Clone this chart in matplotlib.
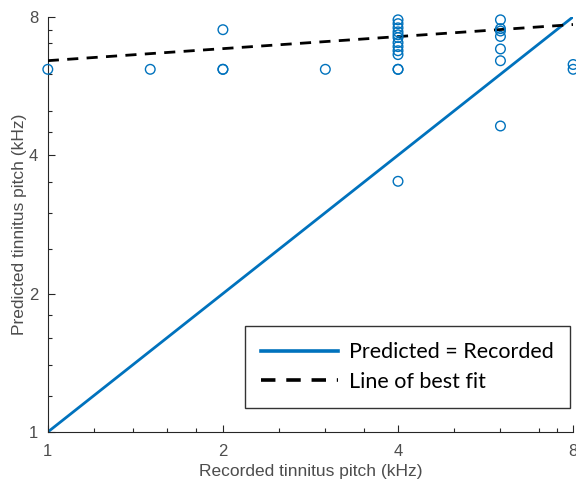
"""Predicted vs recorded tinnitus pitch, log2 axes, with identity and best-fit lines."""
import matplotlib
matplotlib.use("Agg")
import matplotlib.pyplot as plt
import numpy as np

# data (kHz)
recorded = [1, 1.5, 2, 2, 2, 3,
            4, 4, 4, 4, 4, 4, 4, 4, 4, 4, 4, 4, 4,
            6, 6, 6, 6, 6, 6, 6,
            8, 8]
predicted = [6.15, 6.15, 7.5, 6.15, 6.15, 6.15,
             7.88, 7.73, 7.57, 7.42, 7.31, 7.21, 7.03, 6.89, 6.75, 6.62, 6.15, 6.15, 3.51,
             7.88, 7.54, 7.45, 7.25, 6.81, 6.42, 4.63,
             6.3, 6.15]

# best fit in log2 space: log2(pred) = fit_intercept + fit_slope * log2(rec)
fit_intercept = 2.683
fit_slope = 0.087

major_ticks = [1, 2, 4, 8]
x_minor = [1.2, 1.4, 1.6, 1.8, 2.5, 3, 3.5, 5, 6, 7, 7.5]
y_minor = [1.2, 1.4, 1.6, 1.8, 2.5, 3, 3.5, 4.5, 5, 6, 7, 7.5]

BLUE = "#0072BD"
GREY = "#4d4d4d"

fig = plt.figure(figsize=(5.76, 4.8), dpi=100)
ax = fig.add_axes([0.083, 0.1, 0.912, 0.865])

xs = np.array([1.0, 8.0])
ax.plot(xs, xs, color=BLUE, lw=2.0, label="Predicted = Recorded", zorder=2)
fit_y = 2 ** (fit_intercept + fit_slope * np.log2(xs))
ax.plot(xs, fit_y, color="black", lw=2.0, ls=(0, (4, 3)), label="Line of best fit", zorder=3)
ax.scatter(recorded, predicted, s=48, facecolors="none", edgecolors=BLUE,
           linewidths=1.0, zorder=4, clip_on=False)

ax.set_xscale("log", base=2)
ax.set_yscale("log", base=2)
ax.set_xlim(1, 8)
ax.set_ylim(1, 8)
for axis, minor in ((ax.xaxis, x_minor), (ax.yaxis, y_minor)):
    axis.set_major_locator(matplotlib.ticker.FixedLocator(major_ticks))
    axis.set_major_formatter(matplotlib.ticker.FixedFormatter([str(t) for t in major_ticks]))
    axis.set_minor_locator(matplotlib.ticker.FixedLocator(minor))
    axis.set_minor_formatter(matplotlib.ticker.NullFormatter())

ax.spines["top"].set_visible(False)
ax.spines["right"].set_visible(False)
for side in ("left", "bottom"):
    ax.spines[side].set_color("#262626")
    ax.spines[side].set_linewidth(0.8)
ax.tick_params(which="both", direction="in", colors="#262626", labelcolor=GREY,
               labelsize=12, width=0.8)
ax.tick_params(which="major", length=5)
ax.tick_params(which="minor", length=3)
ax.tick_params(axis="x", pad=9)
ax.tick_params(axis="y", pad=7)
for lab in ax.get_xticklabels() + ax.get_yticklabels():
    lab.set_family("Liberation Sans")

ax.set_xlabel("Recorded tinnitus pitch (kHz)", family="Liberation Sans",
              fontsize=12.5, color=GREY, labelpad=3)
ax.set_ylabel("Predicted tinnitus pitch (kHz)", family="Liberation Sans",
              fontsize=12.5, color=GREY, labelpad=1)

leg = ax.legend(loc="lower right", bbox_to_anchor=(0.994, 0.058),
                prop={"family": "Lato", "size": 15.5}, frameon=True, fancybox=False,
                handlelength=3.6, borderpad=0.75, labelspacing=0.45, handletextpad=0.5,
                borderaxespad=0.0)
leg.get_frame().set_edgecolor("black")
leg.get_frame().set_linewidth(1.0)
for handle in leg.get_lines():
    handle.set_linewidth(2.6)

fig.savefig("out.png", dpi=100)
